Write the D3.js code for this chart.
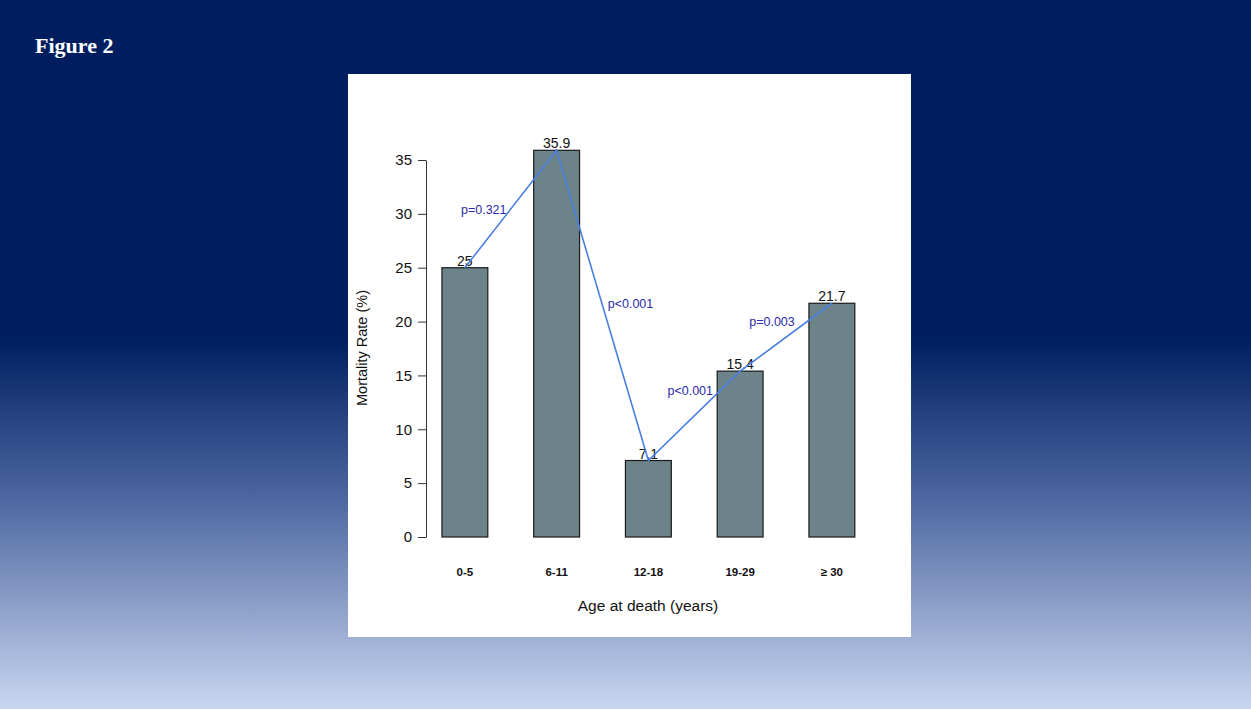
<!DOCTYPE html>
<html>
<head>
<meta charset="utf-8">
<script src="https://cdn.jsdelivr.net/npm/d3@7"></script>
<style>
  html, body { margin: 0; padding: 0; overflow: hidden; }
</style>
</head>
<body>
<script>
// data
let ageGroups = ["0-5", "6-11", "12-18", "19-29", "\u2265 30"];
let mortality = [25, 35.9, 7.1, 15.4, 21.7];
let pValues = ["p=0.321", "p<0.001", "p<0.001", "p=0.003"];
let yTicks = [0, 5, 10, 15, 20, 25, 30, 35];

let W = 1251, H = 709;

let svg = d3.select("body").append("svg")
    .attr("width", W)
    .attr("height", H);

// slide background
let defs = svg.append("defs");
let grad = defs.append("linearGradient")
    .attr("id", "bg")
    .attr("x1", 0).attr("y1", 0).attr("x2", 0).attr("y2", 1);
grad.append("stop").attr("offset", "0%").attr("stop-color", "#001e5f");
grad.append("stop").attr("offset", "48%").attr("stop-color", "#011f60");
grad.append("stop").attr("offset", "70%").attr("stop-color", "#4d66a0");
grad.append("stop").attr("offset", "100%").attr("stop-color", "#c8d6f0");

svg.append("rect")
    .attr("width", W).attr("height", H)
    .attr("fill", "url(#bg)");

svg.append("text")
    .attr("x", 35).attr("y", 53)
    .attr("fill", "white")
    .attr("font-family", "Liberation Serif, Times New Roman, serif")
    .attr("font-weight", "bold")
    .attr("font-size", 22)
    .text("Figure 2");

// white plot panel
svg.append("rect")
    .attr("x", 348).attr("y", 74)
    .attr("width", 563).attr("height", 563)
    .attr("fill", "white");

let x = d3.scaleBand()
    .domain(ageGroups)
    .range([419, 877.75])
    .paddingInner(0.5)
    .paddingOuter(0.25);

let y = d3.scaleLinear()
    .domain([0, 35])
    .range([537, 160]);

let font = "Liberation Sans, Arial, sans-serif";

// y axis
let yAxis = d3.axisLeft(y)
    .tickValues(yTicks)
    .tickSize(8)
    .tickSizeOuter(0)
    .tickPadding(6);

let yAxisGroup = svg.append("g")
    .attr("transform", "translate(426,0)")
    .call(yAxis);
yAxisGroup.select(".domain").attr("stroke", "#333");
yAxisGroup.selectAll(".tick line").attr("stroke", "#333");
yAxisGroup.selectAll("text")
    .attr("font-family", font)
    .attr("font-size", 15)
    .attr("fill", "#111");

svg.append("text")
    .attr("transform", "translate(367,348) rotate(-90)")
    .attr("text-anchor", "middle")
    .attr("font-family", font)
    .attr("font-size", 14.5)
    .attr("fill", "#111")
    .text("Mortality Rate (%)");

// bars
let data = ageGroups.map((g, i) => ({group: g, value: mortality[i]}));

svg.selectAll(".bar").data(data).enter()
  .append("rect")
    .attr("class", "bar")
    .attr("x", d => x(d.group))
    .attr("y", d => y(d.value))
    .attr("width", x.bandwidth())
    .attr("height", d => y(0) - y(d.value))
    .attr("fill", "#6b8389")
    .attr("stroke", "#1a1a1a")
    .attr("stroke-width", 1.2);

// x category labels
svg.selectAll(".xlab").data(data).enter()
  .append("text")
    .attr("class", "xlab")
    .attr("x", d => x(d.group) + x.bandwidth() / 2)
    .attr("y", 576)
    .attr("text-anchor", "middle")
    .attr("font-family", font)
    .attr("font-weight", "bold")
    .attr("font-size", 11.5)
    .attr("fill", "#111")
    .text(d => d.group);

svg.append("text")
    .attr("x", 648).attr("y", 611)
    .attr("text-anchor", "middle")
    .attr("font-family", font)
    .attr("font-size", 15.5)
    .attr("fill", "#111")
    .text("Age at death (years)");

// value labels
svg.selectAll(".vlab").data(data).enter()
  .append("text")
    .attr("class", "vlab")
    .attr("x", d => x(d.group) + x.bandwidth() / 2)
    .attr("y", d => y(d.value) - 2)
    .attr("text-anchor", "middle")
    .attr("font-family", font)
    .attr("font-size", 14)
    .attr("fill", "#111")
    .text(d => d.value);

// trend line through bar tops
let line = d3.line()
    .x(d => x(d.group) + x.bandwidth() / 2)
    .y(d => y(d.value));

svg.append("path")
    .datum(data)
    .attr("d", line)
    .attr("fill", "none")
    .attr("stroke", "#4a7ee0")
    .attr("stroke-width", 1.6);

// p-value labels near segment midpoints
let pOffsets = [[-27, 5], [28, 3], [-4, -21], [-14, -11]];
pValues.forEach((p, i) => {
  let a = data[i], b = data[i + 1];
  let mx = (x(a.group) + x(b.group)) / 2 + x.bandwidth() / 2;
  let my = (y(a.value) + y(b.value)) / 2;
  svg.append("text")
    .attr("x", mx + pOffsets[i][0])
    .attr("y", my + pOffsets[i][1])
    .attr("text-anchor", "middle")
    .attr("font-family", font)
    .attr("font-size", 12.5)
    .attr("fill", "#2a2aaa")
    .text(p);
});
</script>
</body>
</html>
